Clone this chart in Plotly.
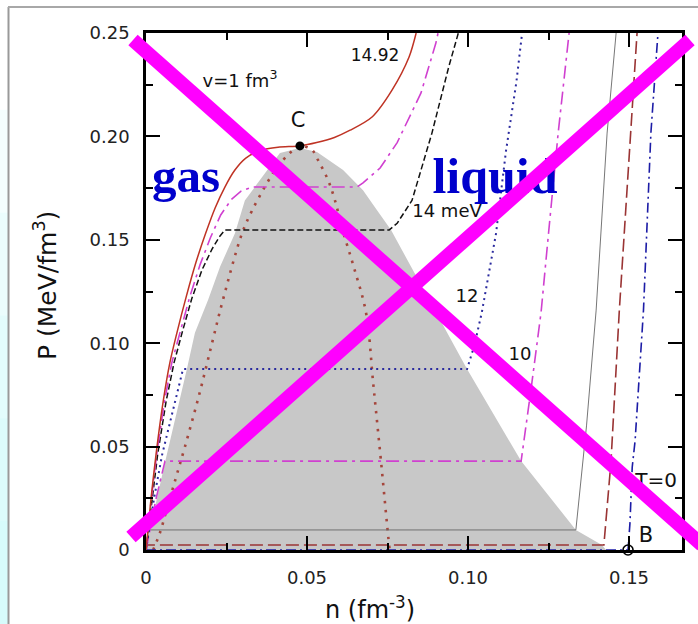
import plotly.graph_objects as go

# ---------------- data ----------------
# critical isotherm T = 14.92 MeV (red solid)
n_t1492 = [0, 0.0015, 0.0031, 0.0053, 0.0074, 0.0096, 0.0125, 0.0155, 0.0185, 0.0215, 0.0245,
           0.0275, 0.031, 0.0355, 0.041, 0.0478, 0.053, 0.0585, 0.0634, 0.0702, 0.0764,
           0.0817, 0.0839]
p_t1492 = [0, 0.024, 0.046, 0.0715, 0.0905, 0.105, 0.1225, 0.139, 0.153, 0.1655, 0.1755,
           0.1835, 0.1895, 0.1932, 0.1948, 0.1954, 0.197, 0.1995, 0.203, 0.2094, 0.2224,
           0.2384, 0.25]

# isotherm ~14.5 MeV (magenta dash-dot)
n_t145 = [0, 0.0016, 0.0033, 0.0057, 0.008, 0.0105, 0.0136, 0.0168, 0.02, 0.0232, 0.0265,
          0.0295, 0.033, 0.0655, 0.0674, 0.0727, 0.078, 0.0854, 0.090, 0.0907]
p_t145 = [0, 0.024, 0.046, 0.0715, 0.0905, 0.105, 0.1225, 0.138, 0.151, 0.162, 0.1695,
          0.1735, 0.1755, 0.1755, 0.1775, 0.1847, 0.197, 0.221, 0.245, 0.25]

# isotherm 14 MeV (black dashed)
n_t14 = [0, 0.0018, 0.0036, 0.0062, 0.0087, 0.0112, 0.0142, 0.0174, 0.0205, 0.0228, 0.0245,
         0.0755, 0.078, 0.0826, 0.0888, 0.094, 0.097]
p_t14 = [0, 0.024, 0.046, 0.0715, 0.0905, 0.105, 0.1215, 0.1355, 0.1455, 0.1515, 0.1547,
         0.1547, 0.158, 0.169, 0.2016, 0.2335, 0.25]

# isotherm 12 MeV (blue dotted)
n_t12 = [0, 0.0025, 0.005, 0.0084, 0.0115, 0.0997, 0.102, 0.1043, 0.1087, 0.1118, 0.115, 0.1168]
p_t12 = [0, 0.025, 0.046, 0.068, 0.0875, 0.0875, 0.099, 0.115, 0.153, 0.193, 0.226, 0.25]

# isotherm 10 MeV (magenta dash-dot)
n_t10 = [0, 0.003, 0.0059, 0.1165, 0.1196, 0.1227, 0.125, 0.128, 0.1314]
p_t10 = [0, 0.024, 0.043, 0.043, 0.078, 0.115, 0.153, 0.2016, 0.25]

# low-T isotherm (thin solid)
n_tthin = [0, 0.0008, 0.1335, 0.1368, 0.1398, 0.1432, 0.146]
p_tthin = [0, 0.0097, 0.0097, 0.06, 0.116, 0.2016, 0.25]

# lower-T isotherm (brown dashed)
n_tlow = [0, 0.0003, 0.1422, 0.1444, 0.147, 0.1506, 0.1525]
p_tlow = [0, 0.0024, 0.0024, 0.0426, 0.116, 0.2016, 0.25]

# T = 0 (blue dash-dot)
n_t0 = [0, 0.1497, 0.1503, 0.151, 0.1519, 0.1535, 0.1545, 0.1568, 0.159]
p_t0 = [0, 0, 0.013, 0.04, 0.053, 0.09, 0.116, 0.2016, 0.25]

# spinodal (brown dotted)
n_spin = [0.0022, 0.0043, 0.0065, 0.0093, 0.0121, 0.0165, 0.0205, 0.0239, 0.0298, 0.0329,
          0.0376, 0.0407, 0.0447, 0.0478, 0.0515, 0.0534, 0.0565, 0.0587, 0.061, 0.0645,
          0.0683, 0.0706, 0.073, 0.0755, 0.0757]
p_spin = [0, 0.0082, 0.02, 0.035, 0.05, 0.075, 0.10, 0.121, 0.153, 0.164,
          0.1775, 0.185, 0.192, 0.1954, 0.1935, 0.1886, 0.179, 0.169, 0.155, 0.137,
          0.115, 0.08, 0.0426, 0.0024, 0]

# coexistence region (gray)
n_coex = [0, 0.0012, 0.006, 0.0106, 0.0127, 0.0152, 0.0193, 0.023, 0.0276, 0.0307, 0.0354,
          0.0416, 0.0478, 0.0531, 0.0612, 0.0674, 0.0717, 0.0761, 0.0997, 0.1165, 0.1335,
          0.1416, 0.1429, 0]
p_coex = [0, 0.0097, 0.043, 0.0725, 0.0875, 0.105, 0.121, 0.137, 0.153, 0.169, 0.179,
          0.192, 0.1944, 0.1925, 0.1838, 0.174, 0.1644, 0.1547, 0.0875, 0.043, 0.0097,
          0.0024, 0, 0]

# special points
point_C = (0.0478, 0.1954)
point_B = (0.1497, 0.0)

x_tickvals = [0, 0.05, 0.10, 0.15]
x_ticktext = ["0", "0.05", "0.10", "0.15"]
y_tickvals = [0, 0.05, 0.10, 0.15, 0.20, 0.25]
y_ticktext = ["0", "0.05", "0.10", "0.15", "0.20", "0.25"]
x_minor = [0.025, 0.075, 0.125]
y_minor = [0.025, 0.075, 0.125, 0.175, 0.225]

# ---------------- layout geometry ----------------
W, H = 698, 624
L, R, T, B = 146, 682, 33, 550
X_MAX = 0.16646
Y_MAX = 0.25


def px(xp):
    return (xp - L) / (R - L)


def py(yp):
    return (B - yp) / (B - T)


def dx(xp):
    return (xp - L) / (R - L) * X_MAX


def dy(yp):
    return (B - yp) / (B - T) * Y_MAX


fig = go.Figure()

fig.add_trace(go.Scatter(x=n_coex, y=p_coex, fill="toself", fillcolor="#c8c8c8",
                         line=dict(width=0), mode="lines", hoverinfo="skip"))


def curve(xs, ys, color, width, dash, shape="linear", smoothing=1.0):
    line = dict(color=color, width=width, dash=dash, shape=shape)
    if shape == "spline":
        line["smoothing"] = smoothing
    fig.add_trace(go.Scatter(x=xs, y=ys, mode="lines", line=line, hoverinfo="skip"))


curve(n_spin, p_spin, "#a5463c", 2.6, "2.5px,6.5px", "spline")
curve(n_tthin, p_tthin, "#666666", 0.9, "solid")
curve(n_tlow, p_tlow, "#9a3434", 1.6, "13px,5px")
curve(n_t0, p_t0, "#1c1ca6", 1.6, "10px,4px,2px,4px")
curve(n_t10, p_t10, "#d040d0", 1.6, "13px,5px,3px,5px")
curve(n_t12, p_t12, "#2a2a9e", 2.0, "2px,4px")
curve(n_t14, p_t14, "#111111", 1.5, "6px,3px")
curve(n_t145, p_t145, "#d040d0", 1.6, "13px,5px,3px,5px")
curve(n_t1492, p_t1492, "#bf3324", 1.5, "solid", "spline", 0.8)

fig.add_trace(go.Scatter(x=[point_C[0]], y=[point_C[1]], mode="markers",
                         marker=dict(color="black", size=9), hoverinfo="skip",
                         cliponaxis=False))
fig.add_trace(go.Scatter(x=[point_B[0]], y=[point_B[1]], mode="markers",
                         marker=dict(color="rgba(0,0,0,0)", size=10,
                                     line=dict(color="black", width=1.6)),
                         hoverinfo="skip", cliponaxis=False))


def label(xp, yp, text, size, family="DejaVu Sans", color="#111111", pos="middle center"):
    fig.add_trace(go.Scatter(x=[dx(xp)], y=[dy(yp)], mode="text", text=[text],
                             textposition=pos,
                             textfont=dict(family=family, size=size, color=color),
                             hoverinfo="skip", cliponaxis=False))


label(240, 82, "v=1 fm<sup>3</sup>", 18)
label(298, 122, "C", 21)
label(375, 57, "14.92", 17)
label(447, 212, "14 meV", 18)
label(467, 297, "12", 18)
label(520, 355, "10", 18)
label(677, 482, "T=0", 20, pos="middle left")
label(646, 537, "B", 21)
label(186, 180, "<b>gas</b>", 49, family="Liberation Serif", color="#0000cc")
label(495, 180, "<b>liquid</b>", 50, family="Liberation Serif", color="#0000cc")

# ---------------- decorations ----------------
shapes = []
# left gradient strip (white at top -> light cyan at bottom)
strip_cols = ["#ffffff", "#f4fefe", "#ebfdfd", "#e3fcfc", "#dcfbfb", "#d7fbfb"]
nst = len(strip_cols)
for i, c in enumerate(strip_cols):
    y0 = 7 + (624 - 7) * i / nst
    y1 = 7 + (624 - 7) * (i + 1) / nst
    shapes.append(dict(type="rect", xref="paper", yref="paper", x0=px(0), x1=px(8),
                       y0=py(y1 + 1), y1=py(y0), fillcolor=c, line=dict(width=0),
                       layer="below"))
shapes.append(dict(type="line", xref="paper", yref="paper", x0=px(8.5), x1=px(8.5),
                   y0=py(7), y1=py(626), line=dict(color="#999999", width=2)))
shapes.append(dict(type="line", xref="paper", yref="paper", x0=px(8), x1=px(700),
                   y0=py(7), y1=py(7), line=dict(color="#a8a8a8", width=2)))
# magenta cross
shapes.append(dict(type="line", xref="paper", yref="paper", x0=px(133), y0=py(40),
                   x1=px(702), y1=py(545), line=dict(color="#ff00ff", width=14),
                   layer="above"))
shapes.append(dict(type="line", xref="paper", yref="paper", x0=px(131), y0=py(537),
                   x1=px(690), y1=py(40), line=dict(color="#ff00ff", width=14),
                   layer="above"))

annotations = [
    dict(text="P (MeV/fm<sup>3</sup>)", xref="paper", yref="paper", x=px(45), y=py(286),
         showarrow=False, textangle=-90, font=dict(family="DejaVu Sans", size=25, color="#111"),
         xanchor="center", yanchor="middle"),
    dict(text="n (fm<sup>-3</sup>)", xref="paper", yref="paper", x=px(370), y=py(608),
         showarrow=False, font=dict(family="DejaVu Sans", size=24, color="#111"),
         xanchor="center", yanchor="middle"),
]

axis_common = dict(showline=True, linecolor="black", linewidth=2.5, mirror="ticks",
                   ticks="inside", ticklen=14, tickwidth=2, tickcolor="black",
                   showgrid=False, zeroline=False,
                   tickfont=dict(family="DejaVu Sans", size=18, color="#222"),
                   fixedrange=True)

fig.update_layout(
    width=W, height=H,
    margin=dict(l=L, r=W - R, t=T, b=H - B),
    paper_bgcolor="white", plot_bgcolor="white",
    showlegend=False,
    xaxis=dict(range=[0, X_MAX], tickmode="array", tickvals=x_tickvals, ticktext=x_ticktext,
               minor=dict(tickmode="array", tickvals=x_minor, ticks="inside", ticklen=7,
                          tickwidth=2, tickcolor="black"),
               ticklabelstandoff=10, **axis_common),
    yaxis=dict(range=[0, Y_MAX], tickmode="array", tickvals=y_tickvals, ticktext=y_ticktext,
               minor=dict(tickmode="array", tickvals=y_minor, ticks="inside", ticklen=7,
                          tickwidth=2, tickcolor="black"),
               ticklabelstandoff=10, **axis_common),
    shapes=shapes,
    annotations=annotations,
)

fig.write_html("out.html")
